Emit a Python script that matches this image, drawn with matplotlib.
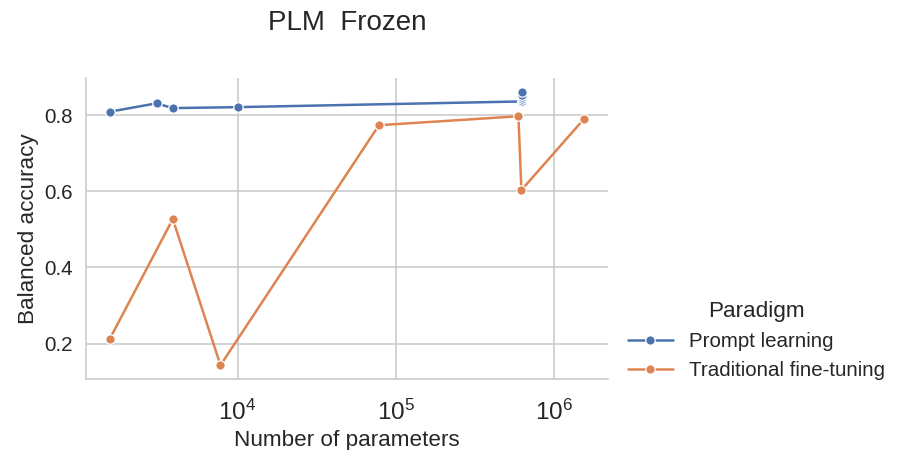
import matplotlib
matplotlib.use('Agg')
from matplotlib import pyplot as plt
import seaborn as sns

# Prompt learning runs (several runs share the largest model size)
pl_params = [1560, 3080, 3900, 10000, 628000, 628000, 628000, 628000, 628000]
pl_acc = [0.809, 0.831, 0.8185, 0.821, 0.836, 0.842, 0.847, 0.852, 0.862]

# Traditional fine-tuning runs
tf_params = [1560, 3900, 7800, 78000, 593000, 619000, 1545000]
tf_acc = [0.212, 0.527, 0.143, 0.7735, 0.797, 0.603, 0.791]

series_names = ['Prompt learning', 'Traditional fine-tuning']
title = 'PLM  Frozen'


def plot():
    sns.set_theme(style='whitegrid')
    plt.rcParams['font.family'] = ['Liberation Sans', 'DejaVu Sans']
    plt.rcParams['mathtext.fontset'] = 'custom'
    plt.rcParams['mathtext.rm'] = 'Liberation Sans'
    plt.rcParams['mathtext.it'] = 'Liberation Sans:italic'
    plt.rcParams['mathtext.bf'] = 'Liberation Sans:bold'
    colors = sns.color_palette('deep')

    fig = plt.figure(figsize=(9, 4.5), dpi=100)
    ax = fig.add_axes([0.0956, 0.158, 0.58, 0.669])

    for xs, ys, name, c in [(pl_params, pl_acc, series_names[0], colors[0]),
                            (tf_params, tf_acc, series_names[1], colors[1])]:
        order = sorted(range(len(xs)), key=lambda i: xs[i])
        ax.plot([xs[i] for i in order], [ys[i] for i in order], color=c,
                linewidth=1.8, marker='o', markersize=6.8,
                markeredgecolor='white', markeredgewidth=0.9, label=name)

    ax.set_xscale('log')
    ax.set_xlabel('Number of parameters', fontsize=16.2, color='.15',
                  labelpad=4)
    ax.set_ylabel('Balanced accuracy', fontsize=16.2, color='.15')
    ax.set_yticks([0.2, 0.4, 0.6, 0.8])
    ax.tick_params(axis='both', labelsize=14.8, colors='.15')
    ax.tick_params(axis='x', which='major', labelsize=17.5, pad=9)
    ax.tick_params(axis='x', which='minor', bottom=False)
    ax.grid(True, which='major', color='.8', linewidth=1.2)
    ax.grid(False, which='minor')
    for side in ['top', 'right']:
        ax.spines[side].set_visible(False)
    for side in ['left', 'bottom']:
        ax.spines[side].set_color('.8')
        ax.spines[side].set_linewidth(1.2)

    fig.text(347 / 900, 1 - 23 / 450, title, ha='center', va='center',
             fontsize=20, color='.15')

    leg = ax.legend(loc='center left', bbox_to_anchor=(1.002, 0.127),
                    frameon=False, fontsize=14.8, title='Paradigm',
                    title_fontsize=16.2, handlelength=2.2)
    for t in leg.get_texts():
        t.set_color('.15')
    leg.get_title().set_color('.15')

    fig.savefig('out.png', dpi=100)


if __name__ == '__main__':
    plot()
